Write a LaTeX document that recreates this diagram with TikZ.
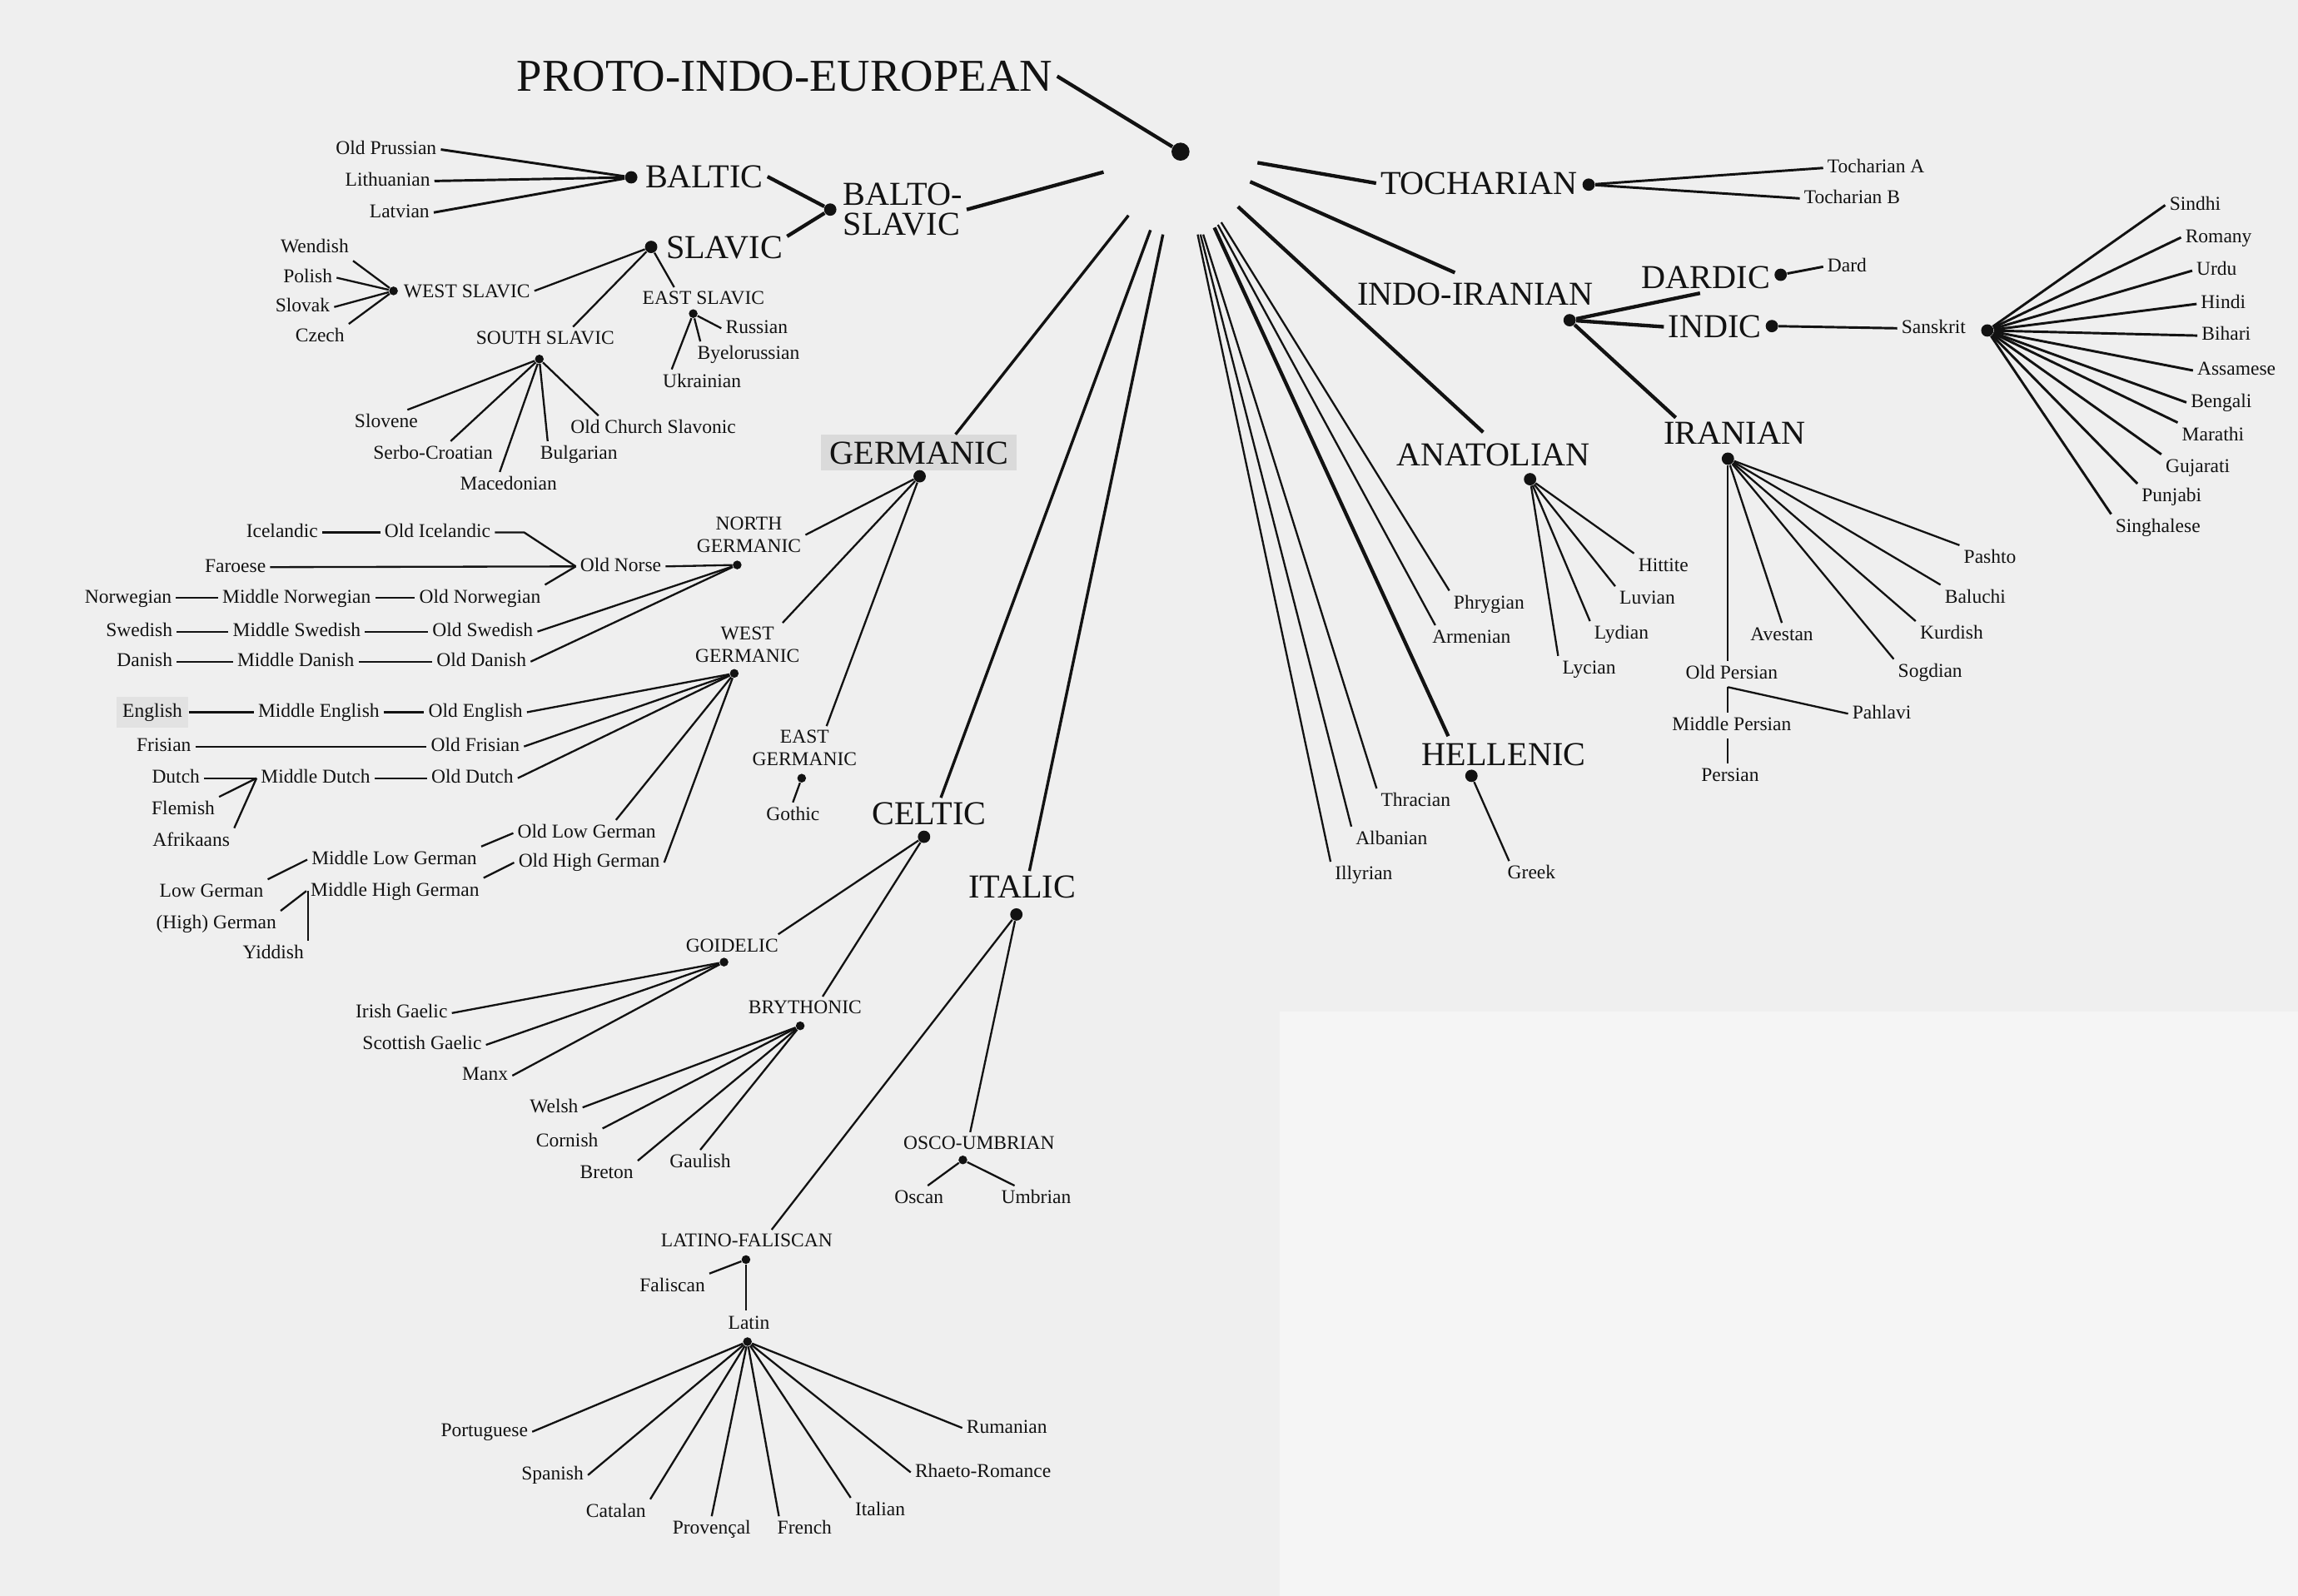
\documentclass[tikz,border=0pt]{standalone}
\usepackage{fontspec}
\setmainfont{Liberation Serif}
\usetikzlibrary{calc}
\definecolor{paper}{HTML}{EFEFEF}
\definecolor{paperlt}{HTML}{F5F5F5}
\definecolor{hl}{HTML}{DADADA}
\definecolor{hlE}{HTML}{E2E2E2}
\definecolor{ink}{HTML}{121212}
\begin{document}
\begin{tikzpicture}[x=0.02cm,y=-0.02cm,
  sm/.style={font=\fontsize{7.6}{8.6}\selectfont, inner sep=1.5pt, text=ink},
  smc/.style={sm, align=center},
  leaf/.style={sm, text height=5.3pt, text depth=1.5pt},
  bg/.style={font=\fontsize{13}{11.8}\selectfont, inner sep=1.5pt, text=ink},
  pienode/.style={font=\fontsize{17.7}{18}\selectfont, inner sep=1.5pt, text=ink},
  dotL/.style={circle, fill=ink, inner sep=0pt, minimum size=7pt},
  dotM/.style={circle, fill=ink, inner sep=0pt, minimum size=4.8pt},
  dotS/.style={circle, fill=ink, inner sep=0pt, minimum size=3.4pt},
  lk/.style={draw=ink, line width=1.4pt},
  lg/.style={draw=ink, line width=1.1pt},
  lm/.style={draw=ink, line width=0.95pt},
  lt/.style={draw=ink, line width=0.75pt},
]
% background
\fill[paper] (0,0) rectangle (1568,1089);
\fill[paperlt] (873,690) rectangle (1568,1089);
\useasboundingbox (0,0) rectangle (1568,1089);

% ---------------- PIE ----------------
\node[pienode] (pie) at (535.5,52) {PROTO-INDO-EUROPEAN};
\node[dotL] (pied) at (805.5,103.5) {};
\draw[lk] (pie.east) -- (pied);

\coordinate (fBS) at (753,117.4);
\coordinate (fTo) at (858,111);
\coordinate (fII) at (853,124);
\coordinate (fAn) at (844.7,141);
\coordinate (fPh) at (833.3,151.7);
\coordinate (fAr) at (831,153.4);
\coordinate (fHe) at (828.6,155.3);
\coordinate (fTh) at (821,160);
\coordinate (fAl) at (819.1,160);
\coordinate (fIl) at (817.2,160);
\coordinate (fGe) at (770,147);
\coordinate (fCe) at (785,157);
\coordinate (fIt) at (793.5,160);

% ---------------- Balto-Slavic ----------------
\node[bg, align=left, anchor=west] (bsl) at (572.4,143) {BALTO-\\SLAVIC};
\node[dotM] (bsd) at (566.5,143) {};
\draw[lk] (fBS) -- (bsl.east);
\node[bg] (baltic) at (480.5,120.5) {BALTIC};
\node[dotM] (balticd) at (430.7,121) {};
\draw[lk] (baltic.east) -- (bsd);
\node[bg] (slavic) at (494.3,169) {SLAVIC};
\node[dotM] (slavicd) at (444.3,168.5) {};
\draw[lk] ($(slavic.north east)+(0,3)$) -- (bsd);

\node[leaf] (oprus) at (263.5,102) {Old Prussian};
\node[leaf] (lith) at (264.5,123.5) {Lithuanian};
\node[leaf] (latv) at (272.6,145) {Latvian};
\draw[lm] (oprus.east) -- (balticd);
\draw[lm] (lith.east) -- (balticd);
\draw[lm] (latv.east) -- (balticd);

% West Slavic
\node[sm, anchor=west] (wsl) at (272.5,198.5) {WEST SLAVIC};
\node[dotS] (wsd) at (268.5,198.5) {};
\draw[lt] (wsl.east) -- (slavicd);
\node[leaf] (wend) at (214.7,169) {Wendish};
\node[leaf] (pol) at (210,189.5) {Polish};
\node[leaf] (slovak) at (206.5,209.5) {Slovak};
\node[leaf] (czech) at (218.3,230) {Czech};
\draw[lt] (wend.south east) -- (wsd);
\draw[lt] (pol.east) -- (wsd);
\draw[lt] (slovak.east) -- (wsd);
\draw[lt] (czech.north east) -- (wsd);

% East Slavic
\node[sm] (esl) at (480,203.5) {EAST SLAVIC};
\draw[lt] (slavicd) -- ($(esl.north)+(-20,0)$);
\node[dotS] (esd) at (473,214) {};
\node[leaf] (russ) at (516.3,224) {Russian};
\node[leaf] (byel) at (510.7,242) {Byelorussian};
\node[leaf] (ukr) at (479,261) {Ukrainian};
\draw[lt] (esd) -- (russ.west);
\draw[lt] (esd) -- ($(byel.north west)+(5,0)$);
\draw[lt] (esd) -- ($(ukr.north west)+(9,0)$);

% South Slavic
\node[sm] (ssl) at (372,230.5) {SOUTH SLAVIC};
\draw[lt] (slavicd) -- ($(ssl.north)+(19,0)$);
\node[dotS] (ssd) at (368,245) {};
\node[leaf] (slovene) at (263.5,288.6) {Slovene};
\node[leaf] (serbo) at (295.5,310) {Serbo-Croatian};
\node[leaf] (maced) at (347,331) {Macedonian};
\node[leaf] (bulg) at (395,310) {Bulgarian};
\node[leaf] (ocs) at (445.7,292.6) {Old Church Slavonic};
\draw[lt] (ssd) -- ($(slovene.north east)+(-10,0)$);
\draw[lt] (ssd) -- ($(serbo.north)+(12,0)$);
\draw[lt] (ssd) -- ($(maced.north)+(-6,0)$);
\draw[lt] (ssd) -- ($(bulg.north west)+(8,0)$);
\draw[lt] (ssd) -- ($(ocs.north west)+(22,0)$);

% ---------------- Germanic ----------------
\node[bg, fill=hl, inner xsep=3.4pt, inner ysep=2.6pt] (germ) at (627,309) {GERMANIC};
\node[dotM] (germd) at (627.5,325) {};
\draw[lg] (fGe) -- ($(germ.north)+(25,0)$);

\node[smc] (ngerm) at (511,365) {NORTH\\GERMANIC};
\node[dotS] (ngd) at (503,385.5) {};
\draw[lt] (germd) -- (ngerm.east);
\node[smc] (wgerm) at (510,440) {WEST\\GERMANIC};
\node[dotS] (wgd) at (501,459.5) {};
\draw[lt] (germd) -- ($(wgerm.north)+(24,0)$);
\node[smc] (egerm) at (549,510.5) {EAST\\GERMANIC};
\node[dotS] (egd) at (547,531) {};
\draw[lt] (germd) -- ($(egerm.north)+(15,0)$);
\node[leaf] (gothic) at (541,556.5) {Gothic};
\draw[lt] (egd) -- (gothic.north);

% North Germanic
\node[leaf] (icel) at (192.5,363.3) {Icelandic};
\node[leaf] (oicel) at (298.5,363.3) {Old Icelandic};
\node[leaf] (faro) at (160.6,387) {Faroese};
\node[leaf] (onorse) at (423.5,386.5) {Old Norse};
\node[leaf] (norw) at (87.5,408) {Norwegian};
\node[leaf] (mnorw) at (202.4,408) {Middle Norwegian};
\node[leaf] (onorw) at (327.5,408) {Old Norwegian};
\node[leaf] (swed) at (95,431) {Swedish};
\node[leaf] (mswed) at (202.5,431) {Middle Swedish};
\node[leaf] (oswed) at (329.4,431) {Old Swedish};
\node[leaf] (dan) at (98.7,451.5) {Danish};
\node[leaf] (mdan) at (201.8,451.5) {Middle Danish};
\node[leaf] (odan) at (328.5,451.5) {Old Danish};
\draw[lt] (icel) -- (oicel);
\draw[lt] (oicel.east) -- +(20,0) -- (onorse.west);
\draw[lt] (faro.east) -- (onorse.west);
\draw[lt] (onorse.east) -- (ngd);
\draw[lt] (norw) -- (mnorw);
\draw[lt] (mnorw) -- (onorw);
\draw[lt] (onorw.north east) -- (onorse.west);
\draw[lt] (swed) -- (mswed);
\draw[lt] (mswed) -- (oswed);
\draw[lt] (oswed.east) -- (ngd);
\draw[lt] (dan) -- (mdan);
\draw[lt] (mdan) -- (odan);
\draw[lt] (odan.east) -- (ngd);

% West Germanic
\node[leaf, fill=hlE, inner xsep=2.3pt, inner ysep=2.7pt] (eng) at (104,486) {English};
\node[leaf] (meng) at (217.5,486) {Middle English};
\node[leaf] (oeng) at (324.5,486) {Old English};
\node[leaf] (fris) at (111.8,509.4) {Frisian};
\node[leaf] (ofris) at (324.3,509.4) {Old Frisian};
\node[leaf] (dutch) at (120,531) {Dutch};
\node[leaf] (mdutch) at (215.3,531) {Middle Dutch};
\node[leaf] (odutch) at (322.3,531) {Old Dutch};
\node[leaf] (flem) at (125,552.7) {Flemish};
\node[leaf] (afrik) at (130.5,574) {Afrikaans};
\node[leaf] (olowg) at (400.3,568.5) {Old Low German};
\node[leaf] (ohighg) at (402,588.6) {Old High German};
\node[leaf] (mlowg) at (269,586.6) {Middle Low German};
\node[leaf] (mhighg) at (269.5,608) {Middle High German};
\node[leaf] (lowg) at (144.3,609) {Low German};
\node[leaf] (highg) at (147.5,630.5) {(High) German};
\node[leaf] (yidd) at (186.5,650.7) {Yiddish};
\draw[lt] (eng) -- (meng);
\draw[lt] (meng) -- (oeng);
\draw[lt] (oeng.east) -- (wgd);
\draw[lt] (fris) -- (ofris);
\draw[lt] (ofris.east) -- (wgd);
\draw[lt] (dutch) -- (mdutch);
\draw[lt] (mdutch) -- (odutch);
\draw[lt] (odutch.east) -- (wgd);
\draw[lt] (flem.north east) -- (mdutch.west);
\draw[lt] (afrik.north east) -- (mdutch.west);
\draw[lt] (wgd) -- ($(olowg.north)+(20,0)$);
\draw[lt] (wgd) -- (ohighg.east);
\draw[lt] (mlowg.north east) -- (olowg.west);
\draw[lt] (mhighg.north east) -- (ohighg.west);
\draw[lt] (lowg.north east) -- (mlowg.west);
\draw[lt] (highg.north east) -- (mhighg.west);
\draw[lt] (yidd.north east) -- (yidd.north east |- mhighg.west);

% ---------------- Celtic ----------------
\node[bg] (celtic) at (634,555) {CELTIC};
\node[dotM] (celtd) at (630.5,571) {};
\draw[lg] (fCe) -- ($(celtic.north)+(8,0)$);
\node[sm] (goid) at (499.5,645) {GOIDELIC};
\node[dotS] (goidd) at (494,656.5) {};
\draw[lt] (celtd) -- ($(goid.north east)+(-3,0)$);
\node[leaf] (irish) at (274,691.3) {Irish Gaelic};
\node[leaf] (scot) at (288,713) {Scottish Gaelic};
\node[leaf] (manx) at (331,734) {Manx};
\draw[lt] (irish.east) -- (goidd);
\draw[lt] (scot.east) -- (goidd);
\draw[lt] (manx.east) -- (goidd);
\node[sm] (bryth) at (549.3,687.5) {BRYTHONIC};
\node[dotS] (brd) at (546,700) {};
\draw[lt] (celtd) -- ($(bryth.north)+(12,0)$);
\node[leaf] (welsh) at (378,755.7) {Welsh};
\node[leaf] (cornish) at (387,779) {Cornish};
\node[leaf] (breton) at (414,801) {Breton};
\node[leaf] (gaul) at (477.8,793.6) {Gaulish};
\draw[lt] (welsh.east) -- (brd);
\draw[lt] (cornish.north east) -- (brd);
\draw[lt] (breton.north east) -- (brd);
\draw[lt] (gaul.north) -- (brd);

% ---------------- Italic ----------------
\node[bg] (italic) at (697.4,605) {ITALIC};
\node[dotM] (itald) at (693.5,624) {};
\draw[lg] (fIt) -- ($(italic.north)+(5,0)$);
\node[sm] (osco) at (668,780) {OSCO-UMBRIAN};
\node[dotS] (oud) at (657,791.5) {};
\draw[lt] (itald) -- ($(osco.north)+(-6,0)$);
\node[leaf] (oscan) at (627,818) {Oscan};
\node[leaf] (umbr) at (707,818) {Umbrian};
\draw[lt] (oud) -- ($(oscan.north)+(6,0)$);
\draw[lt] (oud) -- ($(umbr.north west)+(12,0)$);
\node[sm] (latfal) at (509.5,846.6) {LATINO-FALISCAN};
\node[dotS] (lfd) at (509,859.5) {};
\draw[lt] (itald) -- ($(latfal.north)+(17,0)$);
\node[leaf] (falis) at (458.8,878) {Faliscan};
\draw[lt] (falis.north east) -- (lfd);
\node[leaf] (latin) at (511,903.4) {Latin};
\draw[lt] (lfd) -- (lfd |- latin.north);
\node[dotS] (latind) at (510,915.5) {};
\node[leaf] (port) at (330.5,977) {Portuguese};
\node[leaf] (span) at (377,1006.6) {Spanish};
\node[leaf] (catal) at (420.3,1032) {Catalan};
\node[leaf] (prov) at (485.6,1043.6) {Provençal};
\node[leaf] (french) at (549,1043.6) {French};
\node[leaf] (ital) at (600.5,1031) {Italian};
\node[leaf] (rhaeto) at (670.7,1004.7) {Rhaeto-Romance};
\node[leaf] (ruman) at (687,974.4) {Rumanian};
\draw[lt] (latind) -- (port.east);
\draw[lt] (latind) -- (span.east);
\draw[lt] (latind) -- (catal.north east);
\draw[lt] (latind) -- (prov.north);
\draw[lt] (latind) -- ($(french.north west)+(4,0)$);
\draw[lt] (latind) -- (ital.north west);
\draw[lt] (latind) -- (rhaeto.west);
\draw[lt] (latind) -- (ruman.west);

% ---------------- Tocharian ----------------
\node[bg] (toch) at (1009,125) {TOCHARIAN};
\node[dotM] (tochd) at (1084,126) {};
\draw[lk] (fTo) -- (toch.west);
\node[leaf, anchor=west] (tochA) at (1244,114.6) {Tocharian A};
\node[leaf, anchor=west] (tochB) at (1228,135.4) {Tocharian B};
\draw[lm] (tochd) -- (tochA.west);
\draw[lm] (tochd) -- (tochB.west);

% ---------------- Indo-Iranian ----------------
\node[bg] (indoir) at (1006.7,200.7) {INDO-IRANIAN};
\draw[lk] (fII) -- ($(indoir.north)+(-14,-4)$);
\node[dotM] (iid) at (1071,218.5) {};
\node[bg] (dardic) at (1164,189.4) {DARDIC};
\node[dotM] (dardd) at (1215,187.5) {};
\draw[lk] (iid) -- ($(dardic.south)+(-4,0)$);
\node[leaf, anchor=west] (dard) at (1244,182) {Dard};
\draw[lm] (dardd) -- (dard.west);
\node[bg] (indic) at (1170,223) {INDIC};
\node[dotM] (indicd) at (1209,222.5) {};
\draw[lk] (iid) -- (indic.west);
\node[leaf] (sansk) at (1319.4,224) {Sanskrit};
\draw[lm] (indicd) -- (sansk.west);
\node[dotM] (sanskd) at (1356,225.5) {};
\node[leaf] (sindhi) at (1497.8,140) {Sindhi};
\node[leaf] (romany) at (1513.8,162) {Romany};
\node[leaf] (urdu) at (1512.5,184.7) {Urdu};
\node[leaf] (hindi) at (1517,207.4) {Hindi};
\node[leaf] (bihari) at (1519,229) {Bihari};
\node[leaf] (assam) at (1526,252.8) {Assamese};
\node[leaf] (beng) at (1515.6,274.6) {Bengali};
\node[leaf] (marathi) at (1510,297.3) {Marathi};
\node[leaf] (gujar) at (1499.6,319) {Gujarati};
\node[leaf] (punj) at (1481.8,339) {Punjabi};
\node[leaf] (singh) at (1472.4,359.8) {Singhalese};
\draw[lm] (sanskd) -- (sindhi.west);
\draw[lm] (sanskd) -- (romany.west);
\draw[lm] (sanskd) -- (urdu.west);
\draw[lm] (sanskd) -- (hindi.west);
\draw[lm] (sanskd) -- (bihari.west);
\draw[lm] (sanskd) -- (assam.west);
\draw[lm] (sanskd) -- (beng.west);
\draw[lm] (sanskd) -- (marathi.north west);
\draw[lm] (sanskd) -- (gujar.north west);
\draw[lm] (sanskd) -- (punj.north west);
\draw[lm] (sanskd) -- (singh.north west);

% Iranian
\node[bg] (iran) at (1183.6,295.5) {IRANIAN};
\draw[lk] (iid) -- ($(iran.north west)+(11,0)$);
\node[dotM] (irand) at (1179,313) {};
\node[leaf] (pashto) at (1357.8,381) {Pashto};
\node[leaf] (baluchi) at (1347.8,408) {Baluchi};
\node[leaf] (kurd) at (1331.6,432.8) {Kurdish};
\node[leaf] (sogd) at (1317,458.7) {Sogdian};
\node[leaf] (avest) at (1215.8,434) {Avestan};
\node[leaf] (opers) at (1181.6,459.9) {Old Persian};
\node[leaf] (pahl) at (1284,487) {Pahlavi};
\node[leaf] (mpers) at (1181.6,495) {Middle Persian};
\node[leaf] (pers) at (1180.5,529.8) {Persian};
\draw[lt] (irand) -- (pashto.north west);
\draw[lt] (irand) -- (baluchi.north west);
\draw[lt] (irand) -- (kurd.north west);
\draw[lt] (irand) -- (sogd.north west);
\draw[lt] (irand) -- (avest.north);
\draw[lt] (irand) -- (irand |- opers.north);
\draw[lt] (irand |- opers.south) -- (pahl.west);
\draw[lt] (irand |- opers.south) -- (irand |- mpers.north);
\draw[lt] (irand |- mpers.south) -- (irand |- pers.north);

% ---------------- Anatolian ----------------
\node[bg] (anat) at (1019,310.6) {ANATOLIAN};
\draw[lk] (fAn) -- ($(anat.north)+(-7,-5)$);
\node[dotM] (anatd) at (1044,327) {};
\node[leaf] (hitt) at (1135,386.6) {Hittite};
\node[leaf] (luv) at (1124,409) {Luvian};
\node[leaf] (lyd) at (1106.4,432.8) {Lydian};
\node[leaf] (lyc) at (1084.3,456.5) {Lycian};
\draw[lt] (anatd) -- (hitt.north west);
\draw[lt] (anatd) -- (luv.north west);
\draw[lt] (anatd) -- (lyd.north west);
\draw[lt] (anatd) -- (lyc.north west);

% ---------------- Hellenic ----------------
\node[bg] (hell) at (1026,515) {HELLENIC};
\draw[lk] (fHe) -- ($(hell.north west)+(21,-2)$);
\node[dotM] (helld) at (1004,529.4) {};
\node[leaf] (greek) at (1045,596.5) {Greek};
\draw[lt] (helld) -- ($(greek.north west)+(4,0)$);

% ---------------- isolated branches ----------------
\node[leaf] (phryg) at (1016,412) {Phrygian};
\node[leaf] (armen) at (1004,435.6) {Armenian};
\node[leaf] (thrac) at (966,547) {Thracian};
\node[leaf] (alban) at (949.5,573) {Albanian};
\node[leaf] (illyr) at (930.5,597) {Illyrian};
\draw[lt] (fPh) -- (phryg.north west);
\draw[lt] (fAr) -- ($(armen.north west)+(5,0)$);
\draw[lt] (fTh) -- (thrac.north west);
\draw[lt] (fAl) -- (alban.north west);
\draw[lt] (fIl) -- (illyr.north west);
\end{tikzpicture}
\end{document}
